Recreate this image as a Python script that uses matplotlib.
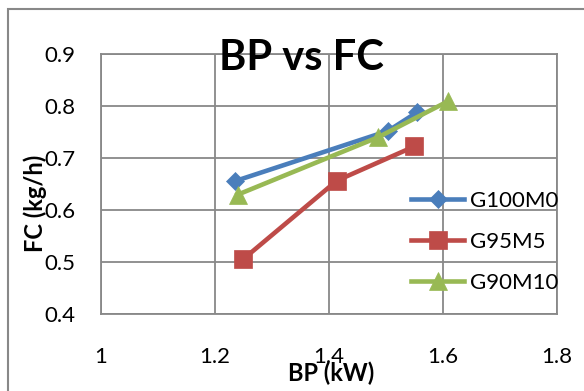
import matplotlib
matplotlib.use("Agg")
import matplotlib.pyplot as plt
from matplotlib.patches import Rectangle

plt.rcParams['font.family'] = ['Lato', 'DejaVu Sans']

# --- data ---
bp_g100m0 = [1.235, 1.504, 1.555]
fc_g100m0 = [0.655, 0.752, 0.788]

bp_g95m5 = [1.250, 1.414, 1.550]
fc_g95m5 = [0.505, 0.656, 0.722]

bp_g90m10 = [1.240, 1.487, 1.609]
fc_g90m10 = [0.629, 0.740, 0.809]

x_ticks = [1.0, 1.2, 1.4, 1.6, 1.8]
x_tick_labels = ['1', '1.2', '1.4', '1.6', '1.8']
y_ticks = [0.4, 0.5, 0.6, 0.7, 0.8, 0.9]

W, H = 584, 391
fig = plt.figure(figsize=(W / 100, H / 100), dpi=100)
ax = fig.add_axes([100.7 / W, 1 - 313.6 / H, (557 - 100.7) / W, (313.6 - 54) / H])

grid_col = '#888888'

ax.plot(bp_g100m0, fc_g100m0, color='#4A7EBB', lw=3.3, marker='D', ms=9,
        mew=0.5, label='G100M0', zorder=3)
ax.plot(bp_g95m5, fc_g95m5, color='#BE4B48', lw=3.3, marker='s', ms=13,
        mew=0.5, label='G95M5', zorder=3)
ax.plot(bp_g90m10, fc_g90m10, color='#98B954', lw=3.3, marker='^', ms=13.5,
        mew=0.5, label='G90M10', zorder=3)

ax.set_xlim(1.0, 1.8)
ax.set_ylim(0.4, 0.9)
ax.set_xticks(x_ticks)
ax.set_xticklabels(x_tick_labels)
ax.set_yticks(y_ticks)
ax.set_yticklabels([f'{v:.1f}' for v in y_ticks])
ax.tick_params(axis='both', length=0, labelsize=16, colors='black')
ax.tick_params(axis='y', pad=18.5)
ax.tick_params(axis='x', pad=24)
ax.grid(True, color=grid_col, lw=1.3)
ax.set_axisbelow(True)
for s in ax.spines.values():
    s.set_color(grid_col)
    s.set_linewidth(1.3)

leg = ax.legend(loc='center left', bbox_to_anchor=(411 / W, 1 - 241.7 / H),
                bbox_transform=fig.transFigure, frameon=False, fontsize=16,
                handlelength=2.4, handletextpad=0.25, labelspacing=0.95,
                borderpad=0, borderaxespad=0)

fig.text(301 / W, 1 - 58 / H, 'BP vs FC', ha='center', va='center',
         fontsize=30, fontweight='bold')
fig.text(331.5 / W, 1 - 373 / H, 'BP (kW)', ha='center', va='center',
         fontsize=17, fontweight='bold')
fig.text(35 / W, 1 - 203.4 / H, 'FC (kg/h)', ha='center', va='center',
         rotation=90, fontsize=17, fontweight='bold')

# outer chart border
fig.patches.append(Rectangle((8 / W, -0.1), 1.2, 1 - 9 / H + 0.1,
                             transform=fig.transFigure, fill=False,
                             edgecolor=grid_col, lw=1.5))

fig.savefig('out.png', dpi=100)
